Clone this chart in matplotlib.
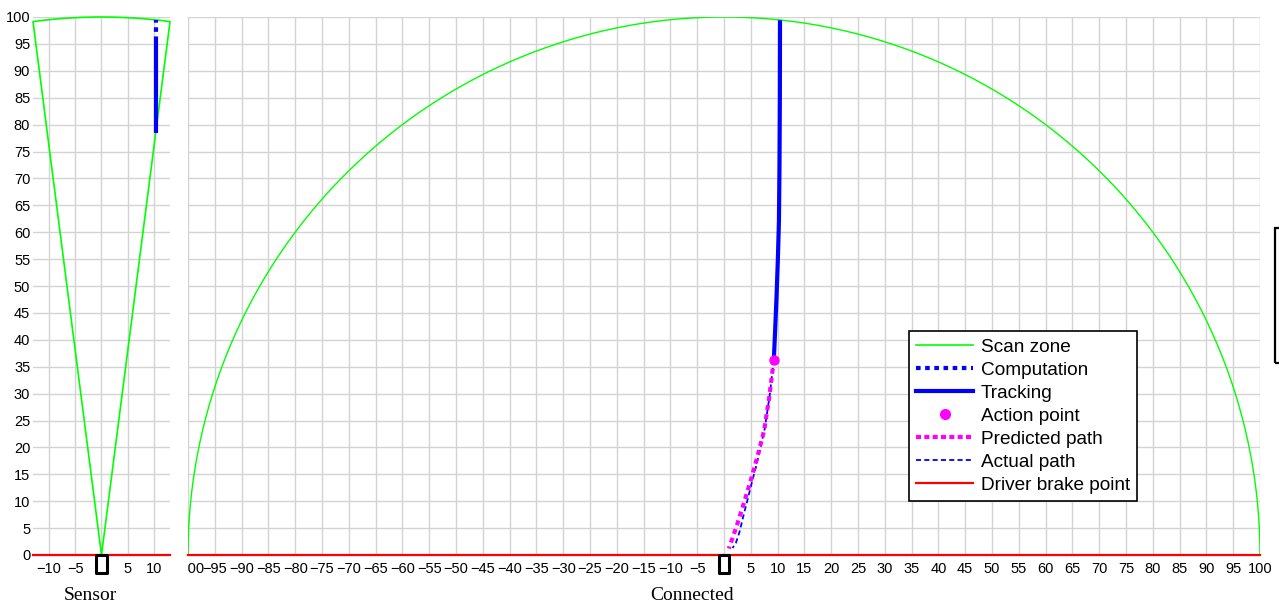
import numpy as np
import matplotlib
matplotlib.use("Agg")
import matplotlib.pyplot as plt
from matplotlib.patches import Rectangle
from matplotlib.lines import Line2D
from matplotlib.transforms import Bbox, TransformedBbox

# ---------------- data ----------------
scan_radius = 100.0
sensor_half_angle_deg = 7.5

y_ticks = list(range(0, 101, 5))
sensor_x_ticks = [-10, -5, 0, 5, 10]
sensor_x_labels = ["\u221210", "\u22125", "", "5", "10"]
connected_x_ticks = list(range(-100, 101, 5))
connected_x_labels = [("\u2212%d" % -v if v < 0 else ("" if v == 0 else "%d" % v)) for v in connected_x_ticks]

# Sensor panel: tracking / computation (x, y)
sensor_tracking_x = [10.35, 10.35]
sensor_tracking_y = [78.5, 95.5]
sensor_computation_x = [10.35, 10.35]
sensor_computation_y = [95.5, 99.4]

# Connected panel
tracking_x = [9.3, 9.55, 9.8, 10.05, 10.25, 10.35, 10.42, 10.45]
tracking_y = [36.3, 42.0, 48.0, 55.0, 62.0, 72.0, 85.0, 99.4]

action_x = [9.3]
action_y = [36.3]

predicted_x = [9.3, 8.45, 7.5, 6.4, 5.0, 3.6, 2.3, 1.5, 0.9]
predicted_y = [36.3, 29.4, 23.2, 18.9, 13.9, 9.3, 5.2, 2.9, 1.2]

actual_x = [9.3, 8.5, 7.6, 6.7, 6.0, 5.2, 4.4, 3.6, 2.9, 2.2, 1.6]
actual_y = [36.3, 29.5, 23.5, 19.5, 16.5, 13.5, 10.3, 7.2, 4.3, 2.2, 1.3]

brake_y = 0.0

legend_labels = ["Scan zone", "Computation", "Tracking", "Action point",
                 "Predicted path", "Actual path", "Driver brake point"]

# ---------------- styles ----------------
GREEN = "#00ff00"
BLUE = "#0000ff"
MAGENTA = "#ff00ff"
RED = "#ff0000"
GRID = "#d3d3d3"

plt.rcParams['font.family'] = ['Liberation Sans', 'DejaVu Sans']

W, H = 1279, 602
fig = plt.figure(figsize=(W / 100, H / 100), dpi=100)
ax_s = fig.add_axes([33 / W, 47 / H, 137 / W, 538 / H])
ax_c = fig.add_axes([188 / W, 47 / H, 1072 / W, 538 / H])

ha = np.deg2rad(sensor_half_angle_deg)
sensor_xlim = scan_radius * np.sin(ha)

for ax in (ax_s, ax_c):
    ax.set_ylim(0, 100)
    ax.set_yticks(y_ticks)
    ax.grid(True, color=GRID, lw=1.0)
    ax.set_axisbelow(True)
    for sp in ax.spines.values():
        sp.set_visible(False)
    ax.tick_params(length=0, labelsize=10.5)
    ax.tick_params(axis='x', pad=5)
    ax.tick_params(axis='y', pad=2)

ax_s.set_xlim(-sensor_xlim, sensor_xlim)
ax_s.set_xticks(sensor_x_ticks)
ax_s.set_xticklabels(sensor_x_labels)
ax_s.set_yticklabels([str(v) for v in y_ticks])

ax_c.set_xlim(-100, 100)
ax_c.set_xticks(connected_x_ticks)
ax_c.set_xticklabels(connected_x_labels)
ax_c.set_yticklabels([])

# clip the leftmost connected tick label like the original
clipbox = TransformedBbox(Bbox([[0, -0.3], [1.2, 1.0]]), ax_c.transAxes)
for t in ax_c.xaxis.get_major_ticks():
    t.label1.set_clip_box(clipbox)
    t.label1.set_clip_on(True)

# ---- Sensor panel ----
ang = np.linspace(-ha, ha, 60)
wx = np.concatenate([[0], scan_radius * np.sin(ang), [0]])
wy = np.concatenate([[0], scan_radius * np.cos(ang), [0]])
ax_s.plot(wx, wy, color=GREEN, lw=1.2, clip_on=False, zorder=3)
ax_s.plot(sensor_tracking_x, sensor_tracking_y, color=BLUE, lw=3, solid_capstyle='butt', zorder=4)
ax_s.plot(sensor_computation_x, sensor_computation_y, color=BLUE, lw=3, dashes=(1.1, 1.1), zorder=4)
ax_s.plot([-sensor_xlim, sensor_xlim], [brake_y, brake_y], color=RED, lw=1.6, clip_on=False, zorder=3)

# ---- Connected panel ----
th = np.linspace(0, np.pi, 400)
ax_c.plot(scan_radius * np.cos(th), scan_radius * np.sin(th), color=GREEN, lw=1.0, zorder=3)
ax_c.plot(actual_x, actual_y, color=BLUE, lw=1.3, dashes=(2.8, 1.8), zorder=4)
ax_c.plot(predicted_x, predicted_y, color=MAGENTA, lw=3, dashes=(1.2, 1.0), zorder=5)
ax_c.plot(tracking_x, tracking_y, color=BLUE, lw=3, solid_capstyle='butt', zorder=6)
ax_c.plot(action_x, action_y, 'o', color=MAGENTA, ms=6.5, zorder=7)
ax_c.plot([-100, 100], [brake_y, brake_y], color=RED, lw=1.6, clip_on=False, zorder=3)

# vehicle icons
for ax in (ax_s, ax_c):
    ax.add_patch(Rectangle((-1.0, -3.4), 2.0, 3.4, fill=False, ec='black', lw=2.2,
                           joinstyle='round', clip_on=False, zorder=8))

# legend
handles = [
    Line2D([], [], color=GREEN, lw=1.2),
    Line2D([], [], color=BLUE, lw=3, dashes=(1.1, 1.1)),
    Line2D([], [], color=BLUE, lw=3),
    Line2D([], [], color=MAGENTA, marker='o', ms=7, lw=0),
    Line2D([], [], color=MAGENTA, lw=3, dashes=(1.2, 0.8)),
    Line2D([], [], color=BLUE, lw=1.3, dashes=(2.8, 1.8)),
    Line2D([], [], color=RED, lw=1.6),
]
leg = fig.legend(handles, legend_labels, loc='upper left',
                 bbox_to_anchor=(909 / W, 1 - 331 / H), bbox_transform=fig.transFigure,
                 borderaxespad=0, frameon=True, fancybox=False, edgecolor='black',
                 framealpha=1, fontsize=13.7, handlelength=3.0, handletextpad=0.4,
                 labelspacing=0.3, borderpad=0.38)
leg.get_frame().set_linewidth(1.2)

# partially visible box at the right edge
fig.patches.append(Rectangle((1275 / W, 1 - 363 / H), 40 / W, 135 / H, fill=False,
                             ec='black', lw=1.6, transform=fig.transFigure, figure=fig))

fig.text(90 / W, 1 - 595 / H, "Sensor", ha='center', va='center',
         family=['Liberation Serif', 'DejaVu Serif'], fontsize=14)
fig.text(692 / W, 1 - 595 / H, "Connected", ha='center', va='center',
         family=['Liberation Serif', 'DejaVu Serif'], fontsize=14)

fig.savefig("out.png", dpi=100)
